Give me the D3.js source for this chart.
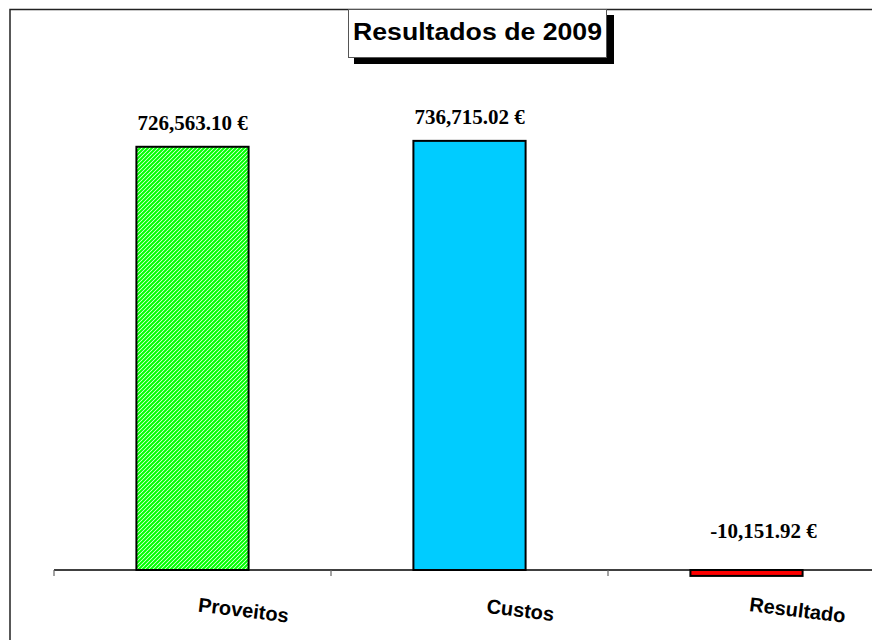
<!DOCTYPE html>
<meta charset="utf-8">
<style>
  body { margin: 0; background: #fff; }
  svg { display: block; }
</style>
<body>
<script src="https://d3js.org/d3.v7.min.js"></script>
<script>

// data
var categories = ["Proveitos", "Custos", "Resultado"];
var values = [726563.10, 736715.02, -10151.92];
var valueLabels = ["726,563.10 €", "736,715.02 €", "-10,151.92 €"];
var titleText = "Resultados de 2009";

var width = 872, height = 640;

var svg = d3.select("body").append("svg")
    .attr("width", width)
    .attr("height", height);

// hatch pattern for the first bar
var defs = svg.append("defs");
var pat = defs.append("pattern")
    .attr("id", "hatch")
    .attr("patternUnits", "userSpaceOnUse")
    .attr("width", 4)
    .attr("height", 4);
pat.append("rect")
    .attr("width", 4).attr("height", 4).attr("fill", "#fff");
pat.append("path")
    .attr("d", "M-1,1 l2,-2 M0,4 l4,-4 M3,5 l2,-2")
    .attr("stroke", "#00ff00")
    .attr("stroke-width", 2.1);

var fills = ["url(#hatch)", "#00ccff", "#ff0000"];

// outer frame (top and left only visible)
svg.append("path")
    .attr("d", "M10,640 L10,9.5 L872,9.5")
    .attr("fill", "none")
    .attr("stroke", "#222")
    .attr("stroke-width", 1.5);

// scales
var x = d3.scaleBand()
    .domain(categories)
    .range([54, 885]);

var y = d3.scaleLinear()
    .domain([0, 800000])
    .range([570, 104]);

var barW = x.bandwidth() * 0.405;

// axis line with ticks
var xAxis = svg.append("g")
    .attr("transform", "translate(0," + y(0) + ")")
    .call(d3.axisBottom(x).tickSize(0).tickFormat(""));
xAxis.select(".domain")
    .attr("d", "M54,0H885")
    .attr("stroke", "#000")
    .attr("stroke-width", 1.5);

xAxis.selectAll(".edge")
    .data(categories)
  .enter().append("line")
    .attr("x1", function(d) { return x(d); })
    .attr("x2", function(d) { return x(d); })
    .attr("y1", 0)
    .attr("y2", 6)
    .attr("stroke", "#666")
    .attr("stroke-width", 1.2);

// bars
svg.selectAll(".bar")
    .data(values)
  .enter().append("rect")
    .attr("class", "bar")
    .attr("x", function(d, i) { return x(categories[i]) + (x.bandwidth() - barW) / 2; })
    .attr("width", barW)
    .attr("y", function(d) { return y(Math.max(0, d)); })
    .attr("height", function(d) { return Math.abs(y(d) - y(0)); })
    .attr("fill", function(d, i) { return fills[i]; })
    .attr("stroke", "#000")
    .attr("stroke-width", 2);

// value labels
svg.selectAll(".vlabel")
    .data(values)
  .enter().append("text")
    .attr("class", "vlabel")
    .attr("x", function(d, i) { return x(categories[i]) + x.bandwidth() / 2 + (d < 0 ? 17 : 0); })
    .attr("y", function(d) { return d >= 0 ? y(d) - 17 : y(0) - 32; })
    .attr("text-anchor", "middle")
    .style("font-family", "'Liberation Serif', 'Times New Roman', serif")
    .style("font-weight", "bold")
    .style("font-size", "21px")
    .text(function(d, i) { return valueLabels[i]; });

// category labels, slightly rotated
svg.selectAll(".clabel")
    .data(categories)
  .enter().append("text")
    .attr("class", "clabel")
    .attr("transform", function(d) {
      return "translate(" + (x(d) + x.bandwidth() / 2 + 51) + ",610)rotate(7)";
    })
    .attr("text-anchor", "middle")
    .attr("dy", "0.35em")
    .style("font-family", "'Liberation Sans', Arial, sans-serif")
    .style("font-weight", "bold")
    .style("font-size", "20px")
    .text(function(d) { return d; });

// title box with shadow
svg.append("rect")
    .attr("x", 354).attr("y", 15)
    .attr("width", 260).attr("height", 49)
    .attr("fill", "#000");
svg.append("rect")
    .attr("x", 348.5).attr("y", 9.5)
    .attr("width", 258).attr("height", 48)
    .attr("fill", "#fff")
    .attr("stroke", "#555")
    .attr("stroke-width", 1);
svg.append("text")
    .attr("x", 477.5)
    .attr("y", 40)
    .attr("text-anchor", "middle")
    .attr("textLength", 249)
    .attr("lengthAdjust", "spacingAndGlyphs")
    .style("font-family", "'Liberation Sans', Arial, sans-serif")
    .style("font-weight", "bold")
    .style("font-size", "23px")
    .text(titleText);

</script>
</body>
